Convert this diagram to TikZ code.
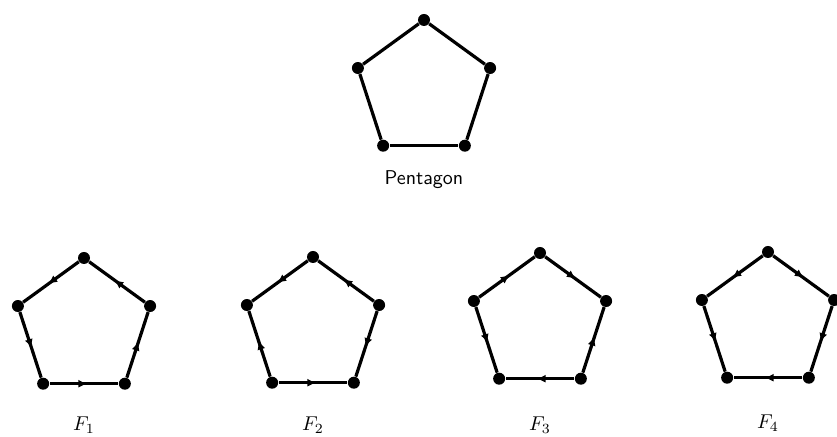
\documentclass[tikz,border=0pt]{standalone}
\usetikzlibrary{arrows.meta,decorations.markings}
\tikzset{
vert/.style={circle,fill=black,inner sep=0pt,minimum size=6pt},
side/.style={line width=1.6pt},
oside/.style={side,postaction={decorate},
  decoration={markings,mark=at position 0.55 with {\arrow{Latex[length=4.5pt,width=4pt]}}}},
lbl/.style={font=\sffamily}
}
\begin{document}
\begin{tikzpicture}[x=0.5pt,y=-0.5pt]
\useasboundingbox (0,0) rectangle (837,437);
% vertices: 1 top, 2 left, 3 bottom left, 4 bottom right, 5 right
\foreach \n/\cx/\cy in {P/424/89.5,A/84/327.5,B/313/326.5,C/540/322.5,D/768/321.5}
  \foreach \i/\a in {1/90,2/162,3/234,4/306,5/18}
    \node[vert] (\n\i) at ({\cx+69.5*cos(\a)},{\cy-69.5*sin(\a)}) {};

% the pentagon
\foreach \i/\j in {1/2,2/3,3/4,4/5,5/1}
  \draw[side] (P\i) -- (P\j);
\node[lbl] (ptxt) at (424,180) {Pentagon};

% F_1
\draw[oside] (A1) -- (A2);
\draw[oside] (A2) -- (A3);
\draw[oside] (A3) -- (A4);
\draw[oside] (A4) -- (A5);
\draw[oside] (A5) -- (A1);
\node (f1) at (84,425) {$F_1$};

% F_2
\draw[oside] (B1) -- (B2);
\draw[oside] (B3) -- (B2);
\draw[oside] (B3) -- (B4);
\draw[oside] (B5) -- (B4);
\draw[oside] (B5) -- (B1);
\node (f2) at (313,425) {$F_2$};

% F_3
\draw[oside] (C2) -- (C1);
\draw[oside] (C2) -- (C3);
\draw[oside] (C4) -- (C3);
\draw[oside] (C4) -- (C5);
\draw[oside] (C1) -- (C5);
\node (f3) at (540,425) {$F_3$};

% F_4
\draw[oside] (D1) -- (D2);
\draw[oside] (D2) -- (D3);
\draw[oside] (D4) -- (D3);
\draw[oside] (D5) -- (D4);
\draw[oside] (D1) -- (D5);
\node (f4) at (768,423) {$F_4$};
\end{tikzpicture}
\end{document}
